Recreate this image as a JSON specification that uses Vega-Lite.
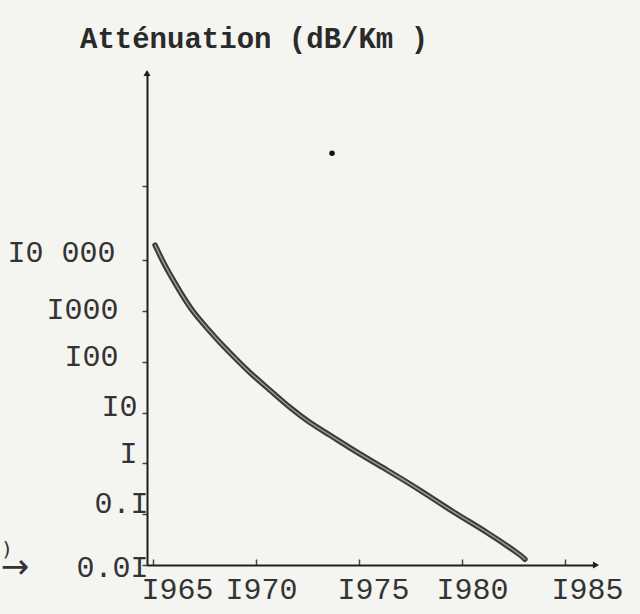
{
  "$schema": "https://vega.github.io/schema/vega-lite/v6.json",
  "width": 449,
  "height": 492,
  "autosize": {"type": "none"},
  "padding": {"left": 147, "top": 73, "right": 44, "bottom": 49},
  "background": "#f4f4f1",
  "title": {
    "text": "Atténuation (dB/Km )",
    "anchor": "start",
    "frame": "group",
    "dx": -67,
    "offset": 16,
    "font": "Liberation Mono",
    "fontSize": 29,
    "fontWeight": "bold",
    "color": "#2a2a2a"
  },
  "config": {"view": {"stroke": null}},
  "datasets": {
    "curve": [
      {"year": 1965.10, "att": 19700},
      {"year": 1965.49, "att": 9140},
      {"year": 1965.92, "att": 4430},
      {"year": 1966.41, "att": 2050},
      {"year": 1966.94, "att": 949},
      {"year": 1967.62, "att": 460},
      {"year": 1968.35, "att": 213},
      {"year": 1969.08, "att": 108},
      {"year": 1969.71, "att": 59.8},
      {"year": 1970.68, "att": 27.7},
      {"year": 1971.65, "att": 12.3},
      {"year": 1972.62, "att": 6.22},
      {"year": 1973.59, "att": 3.61},
      {"year": 1974.71, "att": 1.83},
      {"year": 1976.36, "att": 0.74},
      {"year": 1977.96, "att": 0.30},
      {"year": 1979.56, "att": 0.110},
      {"year": 1981.21, "att": 0.0446},
      {"year": 1982.82, "att": 0.0160},
      {"year": 1983.05, "att": 0.0130}
    ],
    "spot": [{"year": 1973.69, "att": 1270000}],
    "yarrow": [{"year": 1964.71, "att": 48000000}],
    "xarrow": [{"year": 1986.5, "att": 0.01}],
    "fragment": [
      {"year": 1957.9, "att": 0.0195, "txt": ")"},
      {"year": 1958.3, "att": 0.0086, "txt": "→"}
    ]
  },
  "encoding": {
    "x": {
      "field": "year",
      "type": "quantitative",
      "scale": {"domain": [1964.71, 1986.5], "nice": false, "zero": false},
      "axis": {
        "title": null,
        "grid": false,
        "values": [1965, 1970, 1975, 1980, 1985],
        "labelExpr": "replace(toString(datum.value), '1', 'I')",
        "labelFont": "Liberation Mono",
        "labelFontSize": 30,
        "labelColor": "#333333",
        "labelFlush": false,
        "labelOverlap": false,
        "labelBound": false,
        "labelPadding": 15,
        "labelOffset": {
          "condition": [
            {"test": "datum.value == 1965", "value": 24},
            {"test": "datum.value == 1970", "value": 5},
            {"test": "datum.value == 1975", "value": 14},
            {"test": "datum.value == 1980", "value": 10}
          ],
          "value": 22
        },
        "domainColor": "#1e1e1e",
        "domainWidth": 2,
        "tickColor": "#444444",
        "tickWidth": 1.5,
        "tickSize": -6
      }
    },
    "y": {
      "field": "att",
      "type": "quantitative",
      "scale": {"type": "log", "domain": [0.01, 48000000], "nice": false},
      "axis": {
        "title": null,
        "grid": false,
        "values": [0.01, 0.1, 1, 10, 100, 1000, 10000, 285000],
        "labelExpr": "datum.value==10000?'I0 000':datum.value==1000?'I000':datum.value==100?'I00':datum.value==10?'I0':datum.value==1?'I':datum.value==0.1?'0.I':datum.value==0.01?'0.0I':''",
        "labelFont": "Liberation Mono",
        "labelFontSize": 30,
        "labelColor": "#333333",
        "labelOverlap": false,
        "labelBound": false,
        "labelFlush": false,
        "labelPadding": {
          "condition": [
            {"test": "datum.value == 10000", "value": 27},
            {"test": "datum.value == 1000", "value": 24},
            {"test": "datum.value == 100", "value": 24},
            {"test": "datum.value == 10", "value": 5},
            {"test": "datum.value == 1", "value": 5},
            {"test": "datum.value == 0.1", "value": -6}
          ],
          "value": -6
        },
        "labelOffset": {
          "condition": [
            {"test": "datum.value == 10000", "value": -8},
            {"test": "datum.value == 1000", "value": -1},
            {"test": "datum.value == 100", "value": -5},
            {"test": "datum.value == 10", "value": -6},
            {"test": "datum.value == 1", "value": -10},
            {"test": "datum.value == 0.1", "value": -11}
          ],
          "value": 2
        },
        "domainColor": "#1e1e1e",
        "domainWidth": 2,
        "tickColor": "#444444",
        "tickWidth": 1.5,
        "tickSize": 5
      }
    }
  },
  "layer": [
    {
      "data": {"name": "curve"},
      "mark": {"type": "line", "interpolate": "basis", "stroke": "#3a3a3a", "strokeWidth": 5.5, "strokeCap": "round"}
    },
    {
      "data": {"name": "curve"},
      "mark": {"type": "line", "interpolate": "basis", "stroke": "#9a9a9a", "strokeWidth": 1.5, "strokeCap": "round"}
    },
    {
      "data": {"name": "spot"},
      "mark": {"type": "circle", "size": 30, "color": "#111111", "opacity": 1}
    },
    {
      "data": {"name": "yarrow"},
      "mark": {"type": "point", "shape": "triangle-up", "filled": true, "size": 50, "color": "#1e1e1e", "opacity": 1}
    },
    {
      "data": {"name": "xarrow"},
      "mark": {"type": "point", "shape": "triangle-right", "filled": true, "size": 50, "color": "#1e1e1e", "opacity": 1}
    },
    {
      "data": {"name": "fragment"},
      "mark": {"type": "text", "font": "DejaVu Sans", "fontSize": {"expr": "24"}, "color": "#333333"},
      "encoding": {
        "text": {"field": "txt"},
        "size": {"condition": {"test": "datum.txt == '→'", "value": 34}, "value": 20}
      }
    }
  ]
}
